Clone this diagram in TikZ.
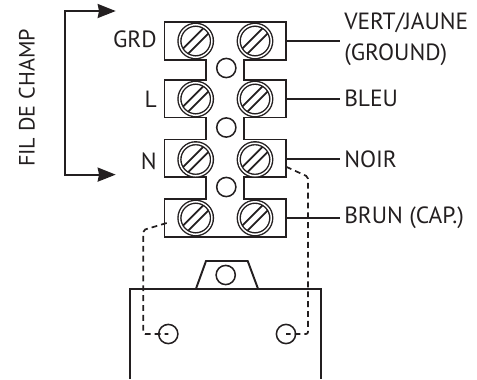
\documentclass[tikz,border=0pt]{standalone}
\usepackage{fontspec}
\setmainfont{PT Sans}
\usetikzlibrary{arrows.meta,calc}
\definecolor{inkdark}{HTML}{231F20}

\tikzset{
  wire/.style={draw=inkdark, line width=1.45pt},
  thinwire/.style={draw=inkdark, line width=1.2pt},
  dashwire/.style={draw=inkdark, line width=1.3pt, dash pattern=on 4.4pt off 3pt, rounded corners=1.5pt},
  label/.style={text=inkdark, font=\fontsize{17.6}{23}\selectfont, inner sep=0pt, align=left},
  hole/.style={circle, draw=inkdark, line width=1.15pt, minimum size=14.4pt, inner sep=0pt},
  screw/.style={circle, draw=inkdark, fill=white, double, double distance=1.1pt, line width=1.05pt,
    minimum size=24.4pt, inner sep=0pt,
    path picture={
      \draw[inkdark, line width=1.35pt] ([shift={(-18.1pt,-21.9pt)}]path picture bounding box.center) -- ([shift={(21.9pt,18.1pt)}]path picture bounding box.center);
      \draw[inkdark, line width=1.35pt] ([shift={(-21.9pt,-18.1pt)}]path picture bounding box.center) -- ([shift={(18.1pt,21.9pt)}]path picture bounding box.center);
    }},
}

\begin{document}
\begin{tikzpicture}[x=.75pt, y=-.75pt]
\useasboundingbox (0,0) rectangle (477,379);

%% Outline of the terminal block with its three necks
\draw[wire] (164.5,22) -- (286,22) -- (286,60) -- (244,60) -- (244,80) -- (286,80) -- (286,117.5)
  -- (244,117.5) -- (244,139.5) -- (286,139.5) -- (286,177) -- (244,177) -- (244,199) -- (286,199) -- (286,237)
  -- (164.5,237) -- (164.5,199) -- (206,199) -- (206,177) -- (164.5,177) -- (164.5,139.5) -- (206,139.5)
  -- (206,117.5) -- (164.5,117.5) -- (164.5,80) -- (206,80) -- (206,60) -- (164.5,60) -- cycle;

%% Place the screws
\node[screw] (screwA) at (195.7,41) {};
\node[screw] (screwB) at (255,41) {};
\node[screw] (screwC) at (195.7,99) {};
\node[screw] (screwD) at (255,99) {};
\node[screw] (screwE) at (195.7,159.5) {};
\node[screw] (screwF) at (255,159.5) {};
\node[screw] (screwG) at (195.7,218) {};
\node[screw] (screwH) at (255,218) {};

%% Place the holes between the screws
\node[hole] (holeA) at (226.3,68) {};
\node[hole] (holeB) at (226.3,127.5) {};
\node[hole] (holeC) at (226.3,187) {};

%% Capacitor body and its tab
\draw[wire] (130,379) -- (130,288.7) -- (321,288.7) -- (321,379);
\draw[wire] (196,288.7) -- (206,261) -- (247.7,261) -- (258,288.7);
\node[hole] (holeTab) at (225.7,275) {};
\node[hole] (holeL) at (168.3,334) {};
\node[hole] (holeR) at (286,334) {};

%% Terminal labels on the left
\node[label, anchor=east] (grd) at (157,39) {GRD};
\node[label, anchor=east] (lin) at (157,99) {L};
\node[label, anchor=east] (neu) at (157,161) {N};

%% Wire labels on the right
\node[label, anchor=west] (vert) at (344,39.5) {VERT/JAUNE\\(GROUND)};
\node[label, anchor=west] (bleu) at (344,98.5) {BLEU};
\node[label, anchor=west] (noir) at (344,159) {NOIR};
\node[label, anchor=west] (brun) at (344,218) {BRUN (CAP.)};

%% Wires from the block to the labels
\coordinate (wireA) at (286,41);
\coordinate (wireB) at (286,99);
\coordinate (wireC) at (286,159);
\coordinate (wireD) at (286,218);
\draw[wire, line width=1.7pt] (wireA) -- ($(wireA -| vert.west) + (-4,0)$);
\draw[thinwire] (wireB) -- ($(wireB -| bleu.west) + (-4,0)$);
\draw[thinwire] (wireC) -- ($(wireC -| noir.west) + (-4,0)$);
\draw[thinwire] (wireD) -- ($(wireD -| brun.west) + (-4,0)$);

%% Dashed wires from the capacitor to the block
\coordinate (dashL) at (166.7,223);
\coordinate (dashR) at (286,166.7);
\draw[dashwire] (dashL) -- (143.3,230) -- (143.3,334) -- (holeL.center);
\draw[dashwire] (dashR) -- (308,176.7) -- (308,334) -- (holeR.center);

%% Field wire arrows
\coordinate (tipTop) at (115.7,11);
\coordinate (tipBot) at (115.7,174.6);
\coordinate (cornerTop) at (65,11);
\coordinate (cornerBot) at (65,174.6);
\draw[wire, line width=1.6pt, {Stealth[length=13.5pt,width=10.5pt,inset=1pt]}-{Stealth[length=13.5pt,width=10.5pt,inset=1pt]}] (tipTop) -- (cornerTop) -- (cornerBot) -- (tipBot);
\node[label, rotate=90, font=\fontsize{16.6}{23}\selectfont] (field) at (27,98) {FIL DE CHAMP};

\end{tikzpicture}
\end{document}
